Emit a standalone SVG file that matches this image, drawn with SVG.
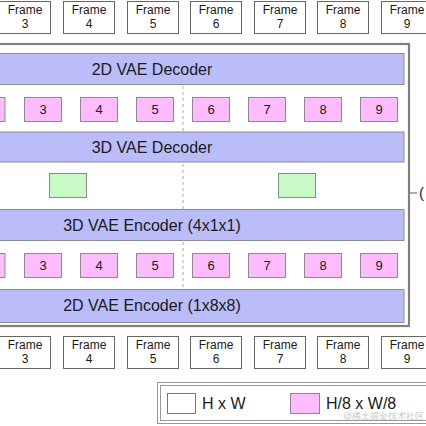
<svg xmlns="http://www.w3.org/2000/svg" width="426" height="426" viewBox="0 0 426 426">
<style>
text{font-family:"Liberation Sans",Arial,sans-serif;fill:#1a1a1a}
.frame rect{fill:#fff;stroke:#666;stroke-width:1}
.frame text{font-size:12px;text-anchor:middle}
.bar rect{fill:#bbbcfa;stroke:#8a8a8a;stroke-width:1}
.bar text{font-size:16px;text-anchor:middle}
.lat rect{fill:#fdbcfd;stroke:#8a8a8a;stroke-width:1}
.lat text{font-size:13px;text-anchor:middle}
.grn rect{fill:#c8fac8;stroke:#8a8a8a;stroke-width:1}
</style>
<rect width="426" height="426" fill="#fff"/>
<g id="connectors">
<line x1="183" y1="86" x2="183" y2="290" stroke="#aaa" stroke-width="1" stroke-dasharray="3,3"/>
<line x1="410" y1="193" x2="417" y2="193" stroke="#555" stroke-width="1"/>
</g>
<g id="outer-box">
<rect x="-20" y="44" width="429" height="282" fill="none" stroke="#808080" stroke-width="2.2"/>
<text x="419" y="198" font-size="15">(</text>
</g>
<g id="top-frames" class="frame">
<g id="top-f3"><rect x="-0.5" y="1.5" width="51" height="32"/><text x="25" y="14">Frame</text><text x="25" y="28">3</text></g>
<g id="top-f4"><rect x="63.5" y="1.5" width="51" height="32"/><text x="89" y="14">Frame</text><text x="89" y="28">4</text></g>
<g id="top-f5"><rect x="127.5" y="1.5" width="51" height="32"/><text x="153" y="14">Frame</text><text x="153" y="28">5</text></g>
<g id="top-f6"><rect x="190.5" y="1.5" width="51" height="32"/><text x="216" y="14">Frame</text><text x="216" y="28">6</text></g>
<g id="top-f7"><rect x="254.5" y="1.5" width="51" height="32"/><text x="280" y="14">Frame</text><text x="280" y="28">7</text></g>
<g id="top-f8"><rect x="317.5" y="1.5" width="51" height="32"/><text x="343" y="14">Frame</text><text x="343" y="28">8</text></g>
<g id="top-f9"><rect x="381.5" y="1.5" width="51" height="32"/><text x="407" y="14">Frame</text><text x="407" y="28">9</text></g>
</g>
<g id="dec2d" class="bar"><rect x="-20" y="53.5" width="424" height="31"/><text x="152" y="75">2D VAE Decoder</text></g>
<g id="lat-top" class="lat">
<g id="lt2"><rect x="-32" y="97.5" width="37" height="24"/></g>
<g id="lt3"><rect x="24.5" y="97.5" width="37" height="24"/><text x="43" y="114">3</text></g>
<g id="lt4"><rect x="80.5" y="97.5" width="37" height="24"/><text x="99" y="114">4</text></g>
<g id="lt5"><rect x="136.5" y="97.5" width="37" height="24"/><text x="155" y="114">5</text></g>
<g id="lt6"><rect x="192.5" y="97.5" width="37" height="24"/><text x="211" y="114">6</text></g>
<g id="lt7"><rect x="248.5" y="97.5" width="37" height="24"/><text x="267" y="114">7</text></g>
<g id="lt8"><rect x="304.5" y="97.5" width="37" height="24"/><text x="323" y="114">8</text></g>
<g id="lt9"><rect x="360.5" y="97.5" width="37" height="24"/><text x="379" y="114">9</text></g>
</g>
<g id="dec3d" class="bar"><rect x="-20" y="132" width="424" height="30"/><text x="152" y="153">3D VAE Decoder</text></g>
<g id="green" class="grn">
<g id="g1"><rect x="49.5" y="173.5" width="37" height="24"/></g>
<g id="g2"><rect x="278.5" y="173.5" width="37" height="24"/></g>
</g>
<g id="enc3d" class="bar"><rect x="-20" y="209.5" width="424" height="31"/><text x="152" y="231">3D VAE Encoder (4x1x1)</text></g>
<g id="lat-bot" class="lat">
<g id="lb2"><rect x="-32" y="253.5" width="37" height="24"/></g>
<g id="lb3"><rect x="24.5" y="253.5" width="37" height="24"/><text x="43" y="270">3</text></g>
<g id="lb4"><rect x="80.5" y="253.5" width="37" height="24"/><text x="99" y="270">4</text></g>
<g id="lb5"><rect x="136.5" y="253.5" width="37" height="24"/><text x="155" y="270">5</text></g>
<g id="lb6"><rect x="192.5" y="253.5" width="37" height="24"/><text x="211" y="270">6</text></g>
<g id="lb7"><rect x="248.5" y="253.5" width="37" height="24"/><text x="267" y="270">7</text></g>
<g id="lb8"><rect x="304.5" y="253.5" width="37" height="24"/><text x="323" y="270">8</text></g>
<g id="lb9"><rect x="360.5" y="253.5" width="37" height="24"/><text x="379" y="270">9</text></g>
</g>
<g id="enc2d" class="bar"><rect x="-20" y="289.5" width="424" height="33"/><text x="152" y="311">2D VAE Encoder (1x8x8)</text></g>
<g id="bot-frames" class="frame">
<g id="bf3"><rect x="-0.5" y="336.5" width="51" height="32"/><text x="25" y="349">Frame</text><text x="25" y="363">3</text></g>
<g id="bf4"><rect x="63.5" y="336.5" width="51" height="32"/><text x="89" y="349">Frame</text><text x="89" y="363">4</text></g>
<g id="bf5"><rect x="127.5" y="336.5" width="51" height="32"/><text x="153" y="349">Frame</text><text x="153" y="363">5</text></g>
<g id="bf6"><rect x="190.5" y="336.5" width="51" height="32"/><text x="216" y="349">Frame</text><text x="216" y="363">6</text></g>
<g id="bf7"><rect x="254.5" y="336.5" width="51" height="32"/><text x="280" y="349">Frame</text><text x="280" y="363">7</text></g>
<g id="bf8"><rect x="317.5" y="336.5" width="51" height="32"/><text x="343" y="349">Frame</text><text x="343" y="363">8</text></g>
<g id="bf9"><rect x="381.5" y="336.5" width="51" height="32"/><text x="407" y="349">Frame</text><text x="407" y="363">9</text></g>
</g>
<g id="legend">
<rect x="157.5" y="382.5" width="280" height="41" fill="none" stroke="#999" stroke-width="1"/>
<rect x="160.5" y="385.5" width="280" height="35" fill="none" stroke="#999" stroke-width="1"/>
<rect x="167.5" y="393.5" width="28" height="20" fill="#fff" stroke="#777"/>
<text x="202" y="409" font-size="16">H x W</text>
<rect x="290.5" y="393.5" width="29" height="20" fill="#fdbcfd" stroke="#8a8a8a"/>
<text x="326" y="409" font-size="16">H/8 x W/8</text>
<text x="343" y="419" font-size="9" style="fill:#c8c8c8" font-family="'Liberation Sans','Noto Sans CJK SC',sans-serif">@稀土掘金技术社区</text>
</g>
</svg>
